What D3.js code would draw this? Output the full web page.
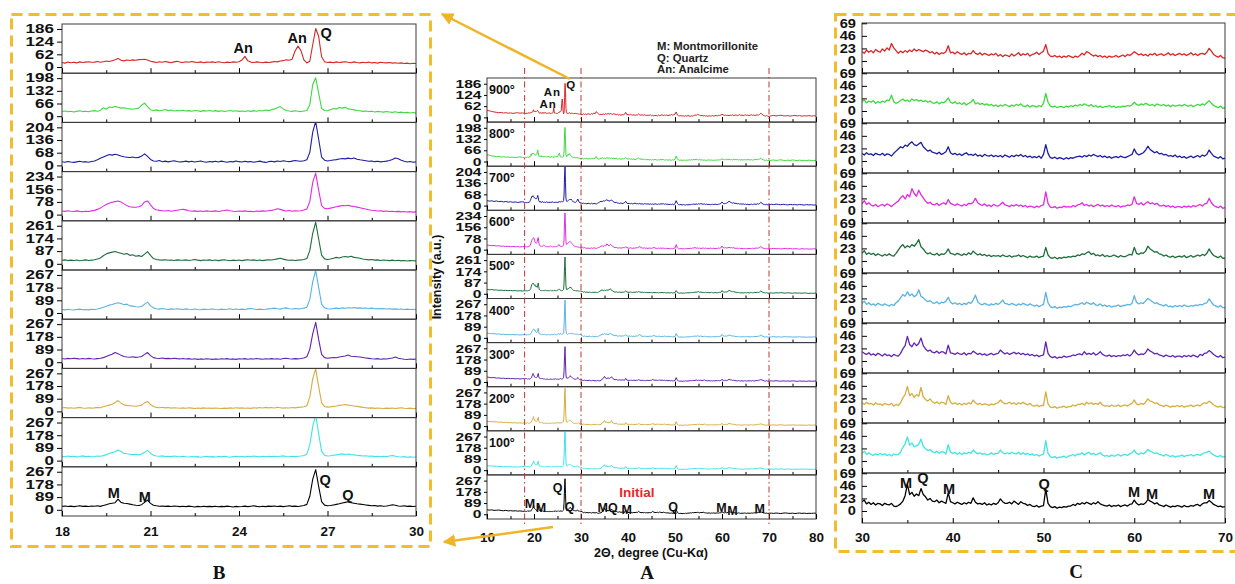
<!DOCTYPE html>
<html><head><meta charset="utf-8">
<script src="https://cdn.jsdelivr.net/npm/d3@7"></script>
<style>body{margin:0;background:#fff}svg{display:block}</style>
</head><body><svg id="c" width="1235" height="584"></svg>
<script>
// ---------------- DATA ----------------
const tempLabels = ["900°","800°","700°","600°","500°","400°","300°","200°","100°",""];
const colors = ["#d82626","#3fd83f","#1c1ca6","#e22be2","#1e6e3c","#5ab2e2","#6222b4","#d6ad42","#3fe3e6","#000000"];
const tickMax = [186,198,204,234,261,267,267,267,267,267];
const cTicks = [0,23,46,69];
const bTickLabels = [18,21,24,27,30];
const bMinor = [19.5,22.5,25.5,28.5];
const aTickLabels = [10,20,30,40,50,60,70,80];
const aMinor = [15,25,35,45,55,65,75];
const cTickLabels = [30,40,50,60,70];
const cMinor = [35,45,55,65];
const guides = [18,30,70];
const legendLines = ["M: Montmorillonite","Q: Quartz","An: Analcime"];

// Panel B: 2θ 18.0–30.0, step 0.1
const b900 = [22,19,24,21,23,20,25,22,24,26,23, 24,27,23,26,29,27,31,35,42,33, 30,34,32,35,33,36,37,38,34,28, 25,22,26,23,27,24,21,25,28,24, 22,26,23,27,24,22,25,21,24,23, 25,22,26,23,21,24,22,25,23,26, 34,52,30,24,22,25,23,21,24,22, 24,27,25,29,31,35,33,38,78,102, 80,35,20,28,110,188,150,50,26,22, 24,21,25,22,24,26,23,21,25,22, 20,23,21,24,20,22,19,23,21,20, 22,19,21,18,20,17,19,16,18,17];
const b800 = [24,27,23,26,22,25,28,24,26,23,27, 29,26,30,44,36,48,45,50,47,42, 44,40,38,36,39,42,58,68,50,34, 30,33,28,31,35,29,32,27,30,28, 31,27,29,26,30,28,25,29,27,30, 26,29,25,28,24,27,30,26,28,25, 27,24,28,25,29,26,30,27,32,29, 34,38,44,50,38,30,27,25,28,26, 24,27,30,60,165,200,120,40,30,28, 34,40,37,45,42,46,38,36,33,30, 28,25,27,24,26,22,25,23,21,24, 22,20,23,19,21,18,20,17,19,16];
const b700 = [20,17,21,18,16,19,22,18,20,17,21, 24,30,38,45,52,58,55,60,56,50, 46,44,42,45,41,43,50,62,48,32, 24,22,26,20,23,19,22,25,21,18, 20,23,19,22,18,21,24,20,17,21, 19,22,18,23,20,17,21,19,24,20, 18,22,19,21,17,20,23,19,16,20, 22,19,24,21,25,22,20,23,26,24, 22,25,30,70,180,235,140,45,28,24, 26,29,31,34,37,35,39,36,40,33, 30,28,25,22,24,20,22,19,21,23, 26,32,40,36,28,22,18,21,17,19];
const b600 = [22,20,24,21,19,23,20,18,21,19,23, 26,32,40,52,62,70,76,80,84,78, 66,55,48,46,45,48,56,78,84,60, 38,30,26,24,22,25,21,24,27,30, 33,29,24,21,23,20,22,19,23,21, 20,23,19,22,25,28,24,21,19,22, 20,23,19,21,18,22,20,23,21,24, 26,30,36,32,26,22,25,21,24,22, 24,28,34,80,200,255,150,55,38,36, 40,44,48,52,55,54,57,52,50,46, 42,38,34,30,27,25,22,24,20,22, 19,21,18,20,17,19,16,18,15,17];
const b500 = [24,27,22,25,23,26,21,24,27,23,25, 28,33,40,55,68,75,80,84,78,72, 66,70,58,62,52,56,50,66,84,58, 36,30,27,25,28,24,26,23,27,25, 24,27,23,26,30,25,22,26,24,27, 23,26,22,25,28,24,21,25,23,26, 22,25,28,24,27,23,26,22,25,28, 26,30,34,38,32,27,24,26,23,25, 27,30,36,90,210,285,170,60,34,30, 33,38,44,40,47,50,46,52,44,42, 38,33,30,27,29,25,27,23,26,24, 22,25,21,24,20,23,19,22,21,20];
const b400 = [25,22,26,23,21,24,27,23,25,22,26, 24,28,33,40,48,55,60,66,72,66, 58,62,50,48,44,42,46,62,76,52, 36,30,27,31,28,25,29,26,30,27, 25,29,26,24,28,25,23,27,24,26, 28,25,23,27,24,26,30,25,28,24, 27,24,29,32,28,25,27,24,26,29, 31,34,30,27,33,36,30,28,32,29, 31,34,40,95,220,300,180,62,36,30, 28,31,34,32,36,33,37,35,38,34, 36,33,35,31,34,30,32,29,31,28, 30,27,29,26,28,25,27,24,26,23];
const b300 = [26,23,27,24,28,25,22,26,23,27,24, 22,25,28,32,40,48,56,68,60,48, 40,37,35,38,34,36,40,55,68,46, 32,28,26,29,25,27,24,28,25,23, 26,22,25,21,24,20,23,21,24,22, 20,23,21,24,22,25,21,23,20,24, 22,25,21,24,22,26,23,21,24,22, 25,22,24,21,26,28,24,22,25,23, 26,30,38,90,200,280,160,55,32,28, 30,33,31,36,40,44,50,42,40,38, 36,33,30,27,24,22,25,21,23,22, 26,30,36,28,24,21,19,22,20,23];
const b200 = [24,27,23,26,22,25,28,24,22,26,23, 25,28,26,32,38,44,50,62,76,58, 46,42,40,38,36,39,44,60,70,48, 34,28,26,29,25,27,23,26,24,22, 25,22,26,23,20,24,21,25,22,24, 21,24,22,20,23,21,25,22,26,23, 25,22,24,21,26,23,27,24,28,25, 27,24,29,26,23,26,24,27,25,28, 30,33,40,100,230,300,175,60,34,30, 32,35,38,42,45,48,44,41,38,35, 32,28,26,23,25,21,24,22,20,23, 21,24,20,23,26,22,20,23,19,21];
const b100 = [30,27,32,28,31,26,29,33,28,30,27, 29,32,30,35,42,50,56,62,74,64, 52,48,45,42,44,40,46,58,72,52, 38,32,30,33,29,31,28,32,29,27, 30,27,25,29,26,28,24,27,30,26, 28,25,29,26,30,27,24,28,31,27, 29,26,30,27,32,29,26,30,27,31, 28,31,27,30,33,29,27,31,28,30, 32,36,45,110,240,320,190,65,38,32, 34,37,40,44,47,43,46,42,40,37, 35,32,34,30,32,28,31,27,30,28, 32,36,30,27,25,28,24,26,23,25];
const bInit = [24,27,23,26,22,25,28,24,26,23,27, 25,28,24,30,36,42,46,50,75,52, 46,44,40,35,32,30,36,52,68,45, 32,28,25,27,24,26,23,27,25,22, 25,22,26,23,20,24,21,25,22,24, 22,25,21,24,22,26,23,20,24,21, 23,26,22,25,28,24,21,25,22,26, 24,27,23,26,22,25,28,24,26,23, 27,30,38,95,215,282,165,58,33,28, 30,34,38,42,48,52,56,50,46,42, 40,37,34,31,28,30,26,28,25,27, 30,35,32,27,25,28,24,26,23,25];

// Panel C: 2θ 30.0–70.0, step 0.25
const c900 = [17,14,20,16, 19,15,21,18, 16,22,18,24, 20,32,24,19, 14,18,15,19, 16,20,17,22, 18,21,19,17, 20,18,15,17, 13,16,12,15, 14,17,28,15, 16,13,17,14, 12,15,11,14, 13,19,14,12, 15,11,14,12, 10,13,11,14, 9,12,8,11, 10,8,13,9, 12,15,10,13, 11,14,9,12, 13,16,12,15, 18,30,14,9, 8,10,7,9, 6,9,7,10, 8,6,9,7, 10,14,11,17, 15,12,9,11, 8,10,7,9, 6,9,7,8, 10,7,9,11, 8,12,10,13, 17,14,11,13, 10,12,9,13, 11,14,10,12, 13,10,12,15, 11,13,10,12, 14,11,13,10, 12,15,11,13, 10,13,14,12, 16,23,18,12, 9,7,10,6, 5];
const c800 = [17,20,15,18, 16,19,14,17, 15,18,16,20, 19,29,17,14, 16,19,22,18, 20,17,22,19, 21,18,20,17, 19,16,18,15, 14,17,13,16, 15,18,24,16, 14,17,13,15, 12,15,11,14, 16,21,13,15, 12,14,11,13, 10,12,9,11, 8,11,9,12, 10,8,11,9, 12,10,13,9, 8,11,7,10, 9,7,10,8, 14,32,16,9, 7,9,6,8, 8,6,9,7, 10,8,11,9, 12,10,13,11, 9,12,8,10, 7,9,6,8, 8,10,7,9, 6,8,7,9, 8,10,9,11, 16,12,10,13, 11,14,12,10, 12,9,13,11, 10,12,9,11, 8,11,9,10, 11,9,12,10, 9,11,8,10, 12,10,13,11, 15,19,14,10, 8,6,9,5, 6];
const c700 = [14,11,15,12, 13,10,14,12, 11,14,10,13, 12,9,14,18, 22,26,24,29, 27,32,35,30, 28,31,34,26, 22,18,20,16, 15,13,16,12, 14,17,26,15, 12,14,11,13, 10,13,15,11, 12,10,13,9, 11,8,12,10, 9,11,8,10, 8,10,7,11, 9,7,10,8, 11,9,12,8, 10,7,9,6, 8,6,9,5, 12,30,14,6, 5,7,4,6, 5,3,6,4, 6,5,7,8, 9,7,10,8, 11,9,12,10, 8,10,7,9, 6,8,5,7, 8,6,9,7, 6,8,10,12, 22,14,11,13, 15,20,27,21, 18,15,17,13, 14,11,12,9, 10,8,11,7, 9,6,8,5, 7,9,6,8, 10,7,11,9, 12,20,14,9, 7,5,8,4, 5];
const c600 = [13,19,12,15, 11,9,12,8, 10,12,9,13, 11,8,12,15, 18,24,28,22, 30,26,41,32, 27,38,30,24, 18,14,16,12, 11,14,10,13, 15,12,21,14, 12,10,13,11, 9,12,10,14, 13,16,23,15, 12,10,13,9, 11,8,12,10, 9,12,16,11, 10,8,11,9, 12,9,11,8, 10,7,9,8, 6,9,7,10, 11,35,14,7, 6,8,5,7, 6,9,7,8, 7,10,8,11, 12,15,10,12, 9,11,8,10, 12,9,11,8, 10,8,11,9, 8,10,7,9, 9,11,10,12, 26,14,12,15, 11,14,17,13, 15,12,14,10, 9,11,8,10, 7,9,6,8, 8,6,9,7, 9,7,10,8, 10,12,9,13, 14,23,15,10, 8,6,9,5, 6];
const c500 = [14,19,12,15, 12,14,10,13, 11,9,12,10, 13,10,9,14, 20,26,30,24, 28,25,30,27, 32,39,26,22, 16,13,15,12, 11,14,10,13, 12,15,22,14, 13,11,14,12, 10,13,11,15, 12,18,14,11, 13,10,12,9, 11,8,10,9, 10,8,11,9, 8,10,7,9, 9,11,8,10, 8,6,9,7, 7,9,6,8, 9,25,11,6, 5,7,4,6, 5,7,6,8, 7,9,8,11, 10,13,12,15, 17,12,14,10, 11,9,12,8, 10,8,9,11, 9,7,10,8, 8,10,12,11, 25,14,12,15, 14,18,27,22, 19,16,17,13, 12,9,11,8, 7,9,6,8, 9,7,10,6, 8,10,7,9, 11,9,12,10, 14,22,15,10, 8,6,9,5, 5];
const c400 = [14,18,12,15, 11,13,10,14, 12,10,13,11, 9,12,10,15, 18,24,30,27, 35,28,31,26, 29,39,27,24, 20,17,19,15, 14,17,13,16, 15,18,25,16, 13,15,12,14, 11,14,12,16, 14,20,29,17, 13,11,14,12, 10,13,11,14, 12,15,20,14, 13,11,14,12, 10,13,11,14, 12,10,13,11, 9,11,8,10, 12,34,15,8, 6,8,5,7, 6,8,7,9, 8,10,12,11, 13,15,12,16, 14,12,15,11, 10,13,9,11, 8,10,7,9, 9,11,8,10, 10,12,11,14, 28,16,13,15, 14,18,23,20, 17,14,15,12, 11,9,12,8, 9,7,10,8, 10,8,11,9, 8,10,9,11, 10,12,11,14, 15,22,16,11, 9,7,10,6, 6];
const c300 = [17,14,12,15, 11,13,10,14, 12,9,13,10, 11,8,12,10, 9,14,22,28, 45,30,26,33, 28,32,42,28, 22,18,20,16, 15,18,14,17, 16,13,29,15, 14,12,15,13, 12,15,11,14, 13,18,15,12, 14,11,13,10, 12,14,11,13, 14,20,16,13, 15,12,14,16, 13,15,12,14, 11,13,10,12, 9,11,8,10, 11,35,14,8, 6,8,5,7, 6,9,7,8, 9,11,10,12, 13,11,17,12, 14,12,15,11, 13,17,12,10, 9,11,8,10, 8,10,9,11, 10,12,9,13, 20,14,11,13, 12,15,22,18, 16,13,14,11, 10,8,11,9, 8,10,7,9, 9,7,10,8, 10,8,11,9, 7,12,10,14, 15,19,16,12, 9,7,10,6, 7];
const c200 = [15,12,16,13, 14,11,15,12, 13,10,14,12, 11,14,9,12, 10,15,24,30, 45,28,32,25, 30,27,43,26, 21,18,22,17, 14,17,13,16, 15,12,28,16, 13,15,12,14, 11,14,12,15, 13,20,15,12, 14,11,13,12, 10,13,11,14, 15,20,16,13, 14,16,13,15, 12,15,13,16, 13,11,14,10, 9,11,8,10, 10,35,13,7, 6,8,5,7, 7,9,6,8, 8,11,9,12, 12,14,11,16, 13,15,12,14, 12,16,11,9, 10,8,11,9, 9,11,8,10, 11,9,12,14, 20,13,11,14, 12,16,22,18, 17,14,15,11, 10,8,11,9, 7,9,8,10, 8,10,7,9, 9,11,8,10, 11,9,13,15, 14,18,15,11, 9,7,9,6, 7];
const c100 = [14,18,12,15, 12,10,13,11, 14,11,13,10, 12,9,13,11, 12,16,25,31, 44,29,33,26, 28,30,40,27, 22,19,21,17, 15,18,14,17, 16,13,30,16, 14,16,12,15, 12,15,13,16, 14,20,16,13, 15,12,14,11, 12,15,12,14, 14,20,15,13, 15,13,16,14, 13,16,12,15, 12,14,11,13, 10,12,9,11, 12,37,14,8, 6,8,5,7, 7,9,6,9, 10,12,9,13, 12,15,11,14, 16,12,14,11, 13,15,11,9, 10,8,11,9, 10,12,9,11, 12,10,13,15, 20,14,12,15, 13,16,21,18, 16,14,15,12, 11,9,12,10, 8,10,7,9, 9,11,8,10, 10,12,9,11, 12,10,13,15, 16,18,14,11, 9,8,10,7, 8];
const cInit = [17,20,13,16, 12,15,11,14, 13,10,14,12, 11,14,9,8, 10,13,18,28, 49,30,34,27, 31,28,41,30, 26,20,23,18, 17,20,15,18, 16,14,33,17, 15,13,16,14, 12,15,13,16, 14,24,16,13, 14,12,15,11, 13,11,14,12, 15,22,17,14, 14,16,13,18, 15,12,17,14, 13,10,12,9, 8,10,7,9, 10,40,14,8, 6,8,5,7, 6,8,7,9, 9,12,10,14, 12,15,13,16, 14,12,15,13, 17,13,11,10, 9,11,8,10, 9,11,8,10, 11,9,12,13, 20,14,11,13, 12,15,21,18, 16,13,15,11, 10,8,11,9, 7,9,8,10, 9,7,10,8, 8,10,9,11, 12,9,13,15, 15,19,16,12, 10,8,9,7, 8];

// Panel A extra ranges: 10.0–17.5 and 70.5–80.0, step 0.5
const lo900 = [40,36,33,30,28,26,27,24,26,23,25,22,24,26,23,25];
const lo800 = [40,37,33,31,28,30,26,28,25,27,24,26,23,25,27,24];
const lo700 = [30,27,29,25,28,24,26,22,25,21,23,20,22,19,21,23];
const lo600 = [32,30,28,29,26,27,24,25,22,24,21,23,20,22,19,21];
const lo500 = [34,31,33,29,30,27,28,25,27,24,26,23,25,22,24,21];
const lo400 = [38,35,33,34,30,31,28,29,26,28,25,27,24,26,23,25];
const lo300 = [40,36,34,35,31,32,29,30,27,29,26,28,25,27,24,26];
const lo200 = [38,35,37,33,34,31,32,29,30,27,28,25,27,24,26,23];
const lo100 = [36,33,35,31,32,29,30,27,29,26,28,25,27,24,26,28];
const loInit = [36,33,35,31,32,34,30,28,31,27,29,26,28,25,27,24];
const hi900 = [9,11,8,10,12,9,8,10,7,9,11,8,10,7,9,8,10,7,9,8];
const hi800 = [7,9,6,8,10,7,5,8,6,9,7,5,8,6,7,5,8,6,5,7];
const hi700 = [8,6,9,7,5,8,6,4,7,5,6,4,7,5,3,6,4,5,3,4];
const hi600 = [7,9,6,8,5,7,9,6,8,5,7,6,4,7,5,6,4,5,6,4];
const hi500 = [7,5,8,6,9,7,5,8,6,4,7,5,6,4,7,5,3,5,4,5];
const hi400 = [8,10,7,9,6,8,10,7,9,6,8,7,9,6,8,5,7,6,8,6];
const hi300 = [9,7,10,8,6,9,7,8,6,9,7,5,8,6,7,5,8,6,7,7];
const hi200 = [8,10,7,9,11,8,6,9,7,10,8,6,9,7,8,6,9,7,8,7];
const hi100 = [9,7,10,8,11,9,7,10,8,6,9,7,8,10,7,9,6,8,7,8];
const hiInit = [9,7,10,8,6,9,11,8,7,9,6,8,10,7,9,6,8,7,9,8];

// Phase annotations: [text, 2θ, intensity]
const annA900 = [["An",23.0,76],["An",23.9,138],["Q",27.9,179]];
const annAInit = [["Q",25.0,212],["M",19.15,82],["M",21.5,50],["Q",27.6,58],["M",34.6,54],["Q",36.8,54],["M",39.7,38],["Q",49.6,60],["M",59.9,50],["M",62.2,30],["M",68.0,42]];
const annB900 = [["An",24.14,93],["An",25.97,142],["Q",26.95,166]];
const annBInit = [["M",19.76,118],["M",20.81,90],["Q",26.92,209],["Q",27.69,104]];
const annCInit = [["M",34.85,51],["Q",36.72,60],["M",39.59,40],["Q",50.06,49],["M",59.97,35],["M",61.95,31],["M",68.24,31]];

// ---------------- BUILD ----------------
const FONT = "'Liberation Sans', Arial, Helvetica, sans-serif";
const bSeries = [b900,b800,b700,b600,b500,b400,b300,b200,b100,bInit];
const cSeries = [c900,c800,c700,c600,c500,c400,c300,c200,c100,cInit];
const loSeries = [lo900,lo800,lo700,lo600,lo500,lo400,lo300,lo200,lo100,loInit];
const hiSeries = [hi900,hi800,hi700,hi600,hi500,hi400,hi300,hi200,hi100,hiInit];
const pts = (arr, start, step) => arr.map((v,i) => [start + i*step, v]);
const bData = bSeries.map(a => pts(a,18,0.1));
const cData = cSeries.map(a => pts(a,30,0.25));
const aData = d3.range(10).map(i => [].concat(pts(loSeries[i],10,0.5), bData[i], cData[i].slice(1), pts(hiSeries[i],70.5,0.5)));

const svg = d3.select("#c");
const defs = svg.append("defs");
const GOLD = "#f2bd2c";
defs.append("marker").attr("id","ah").attr("viewBox","0 0 10 10").attr("refX",9).attr("refY",5)
  .attr("markerWidth",5).attr("markerHeight",5).attr("orient","auto")
  .append("path").attr("d","M0,0L10,5L0,10z").attr("fill","#f0b428");

function annotate(g, list, x, y, fs, color, ls){
  list.forEach(([t,a,v]) => g.append("text").attr("x",x(a)).attr("y",y(v)).attr("dy","0.35em")
    .attr("text-anchor","middle").attr("font-family",FONT).attr("font-weight","bold")
    .attr("font-size",fs).attr("letter-spacing",ls||0).attr("fill",color||"#111").text(t));
}

function drawSet(o){
  const x = d3.scaleLinear().domain(o.xd).range([o.x0,o.x1]);
  const root = svg.append("g");
  for(let i=0;i<10;i++){
    const top = o.top + i*o.h, bot = top + o.h;
    const y = d3.scaleLinear().domain(o.yd(i)).range([bot,top]);
    const cid = o.id + i;
    defs.append("clipPath").attr("id",cid).append("rect").attr("x",o.x0).attr("y",top).attr("width",o.x1-o.x0).attr("height",o.h);
    root.append("path").datum(o.data[i]).attr("clip-path",`url(#${cid})`).attr("fill","none")
      .attr("stroke",colors[i]).attr("stroke-width",o.lw).attr("stroke-linejoin","round")
      .attr("d", d3.line().x(d => x(d[0])).y(d => y(d[1])));
    root.append("rect").attr("x",o.x0).attr("y",top).attr("width",o.x1-o.x0).attr("height",o.h)
      .attr("fill","none").attr("stroke","#3a3a3a").attr("stroke-width",1);
    // x ticks (inward)
    const mn = root.append("g").attr("transform",`translate(0,${bot})`)
      .call(d3.axisBottom(x).tickValues(o.minor).tickSize(-3).tickFormat(() => ""));
    mn.select(".domain").remove();
    const mj = root.append("g").attr("transform",`translate(0,${bot})`)
      .call(d3.axisBottom(x).tickValues(o.major).tickSize(-5).tickPadding(o.xpad)
        .tickFormat(i === 9 ? d3.format("d") : () => ""));
    mj.select(".domain").remove();
    mj.attr("font-family",FONT).attr("font-size",13.5).attr("font-weight","bold");
    mj.selectAll("text").attr("fill","#111");
    // y ticks
    const ya = root.append("g").attr("transform",`translate(${o.x0},0)`)
      .call(d3.axisLeft(y).tickValues(o.yt(i)).tickSize(o.ys).tickPadding(o.ypad));
    ya.select(".domain").remove();
    ya.attr("font-family",FONT).attr("font-size",o.yfs).attr("font-weight","bold");
    ya.selectAll(".tick text").attr("x", -(Math.max(o.ys,0)+o.ypad)/o.sx)
      .attr("transform",`scale(${o.sx},1)`).attr("fill","#111");
    if (o.after) o.after(root, i, x, y, top, bot);
  }
  return x;
}

// Panel B (zoom 18–30)
drawSet({id:"b", xd:[18,30], x0:62, x1:416, top:24, h:49.2, data:bData, lw:1.1,
  yd: i => [-0.163*tickMax[i], 1.13*tickMax[i]],
  yt: i => [0, tickMax[i]/3, 2*tickMax[i]/3, tickMax[i]],
  major: bTickLabels, minor: bMinor, xpad: 10.5, ys: 5, ypad: 3, yfs: 12, sx: 1.42,
  after: (g,i,x,y) => { if(i===0) annotate(g, annB900, x, y, 14.5); if(i===9) annotate(g, annBInit, x, y, 14.5); }
});

// Panel A (full 10–80)
const xA = drawSet({id:"a", xd:[10,80], x0:487, x1:816, top:78, h:44.1, data:aData, lw:1,
  yd: i => [-0.14*tickMax[i], 1.17*tickMax[i]],
  yt: i => [0, tickMax[i]/3, 2*tickMax[i]/3, tickMax[i]],
  major: aTickLabels, minor: aMinor, xpad: 13, ys: 3, ypad: 2.5, yfs: 11.5, sx: 1.36,
  after: (g,i,x,y,top) => {
    if (tempLabels[i]) g.append("text").attr("x",489).attr("y",top+16).attr("font-family",FONT)
      .attr("font-weight","bold").attr("font-size",12.5).attr("fill","#111").text(tempLabels[i]);
    if (i===0) annotate(g, annA900, x, y, 11.5, "#111", 1);
    if (i===9) { annotate(g, annAInit, x, y, 12.5); annotate(g, [["Initial",41.9,173]], x, y, 13.5, "#e02a2a"); }
  }
});

// Panel C (zoom 30–70)
drawSet({id:"cc", xd:[30,70], x0:862, x1:1225, top:23, h:50, data:cData, lw:1.3,
  yd: () => [-22, 69.5], yt: () => cTicks,
  major: cTickLabels, minor: cMinor, xpad: 9, ys: -5, ypad: 6, yfs: 12, sx: 1.22,
  after: (g,i,x,y) => { if(i===9) annotate(g, annCInit, x, y, 14.5); }
});

// guide lines in A
guides.forEach(v => svg.append("line").attr("x1",xA(v)).attr("x2",xA(v)).attr("y1",68).attr("y2",525)
  .attr("stroke","#c0392f").attr("stroke-width",1).attr("stroke-dasharray","6,3,1.5,3"));

// legend
legendLines.forEach((t,k) => svg.append("text").attr("x",657).attr("y",50+k*11.5)
  .attr("font-family",FONT).attr("font-weight","bold").attr("font-size",11.3).attr("fill","#222").text(t));

// axis titles
svg.append("text").attr("x",651).attr("y",557).attr("text-anchor","middle").attr("font-family",FONT)
  .attr("font-weight","bold").attr("font-size",12.5).attr("fill","#111").text("2Θ, degree (Cu-Kα)");
svg.append("text").attr("transform","translate(441,277) rotate(-90)").attr("text-anchor","middle")
  .attr("font-family",FONT).attr("font-weight","bold").attr("font-size",12.5).attr("fill","#111").text("Intensity (a.u.)");

// dashed boxes
svg.append("rect").attr("x",11.5).attr("y",14.5).attr("width",419).attr("height",532)
  .attr("fill","none").attr("stroke",GOLD).attr("stroke-width",3).attr("stroke-dasharray","11,6");
svg.append("rect").attr("x",835.5).attr("y",14.5).attr("width",410).attr("height",537)
  .attr("fill","none").attr("stroke",GOLD).attr("stroke-width",3).attr("stroke-dasharray","11,6");

// arrows
svg.append("line").attr("x1",570).attr("y1",79).attr("x2",442).attr("y2",14)
  .attr("stroke","#f0b428").attr("stroke-width",2.5).attr("marker-end","url(#ah)");
svg.append("line").attr("x1",553).attr("y1",527).attr("x2",444).attr("y2",542)
  .attr("stroke","#f0b428").attr("stroke-width",2.5).attr("marker-end","url(#ah)");

// panel letters
[["B",219,579],["A",647,579],["C",1076,578]].forEach(([t,px,py]) => svg.append("text")
  .attr("x",px).attr("y",py).attr("text-anchor","middle").attr("font-family","'Liberation Serif','Times New Roman',serif")
  .attr("font-weight","bold").attr("font-size",19).attr("fill","#111").text(t));
</script>
</body></html>
